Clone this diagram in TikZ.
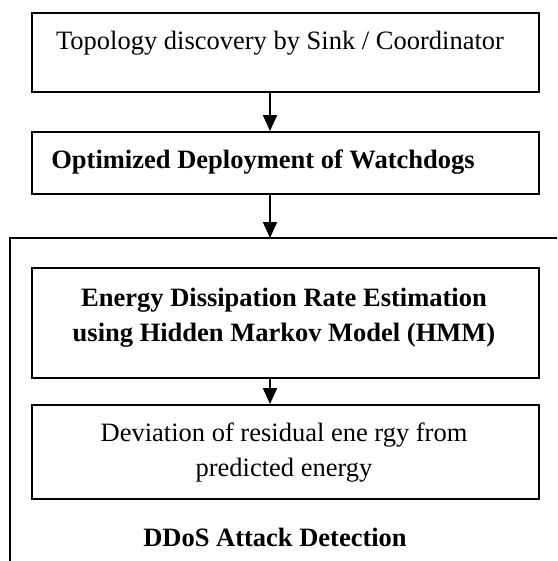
\documentclass[tikz,border=0pt]{standalone}
\usepackage{fontspec}
\setmainfont{Liberation Serif}
\usetikzlibrary{arrows.meta}
\begin{document}
\begin{tikzpicture}[x=1pt,y=-1pt,
  box/.style={draw, line width=1.8pt, inner sep=0pt, minimum width=507pt},
  txt/.style={font=\fontsize{26.5}{35}\selectfont, inner sep=0pt, anchor=base, align=center},
  btxt/.style={txt, font=\fontsize{26.5}{35}\selectfont\bfseries},
  flow/.style={line width=1.8pt, -{Triangle[width=14pt,length=16pt]}},
  outer/.style={line width=2pt}]
\useasboundingbox (0,0) rectangle (557,561);
\node[box, minimum height=79pt] (b1) at (285.5,52.5) {};
\node[box, minimum height=62pt] (b2) at (285.5,163) {};
\node[box, minimum height=110pt] (b3) at (285.5,323) {};
\node[box, minimum height=94pt] (b4) at (285.5,452) {};
\coordinate (ol) at (10,238);
\coordinate (or) at (557,238);
\coordinate (ob) at (10,561);
\coordinate (otop) at (270,238);
\draw[outer] (or) -- (ol) -- (ob);
\node[txt] (t1) at (280,49.3) {Topology discovery by Sink / Coordinator};
\node[btxt] (t2) at (263,168.5) {Optimized Deployment of Watchdogs};
\node[btxt] (t3) at (284,341.5) {Energy Dissipation Rate Estimation\\using Hidden Markov Model (HMM)};
\node[txt] (t4) at (284,476.7) {Deviation of residual ene rgy from\\predicted energy};
\node[btxt] (t5) at (275,546.5) {DDoS Attack Detection};
\draw[flow] ([xshift=-15.5pt]b1.south) -- ([xshift=-15.5pt]b2.north);
\draw[flow] ([xshift=-15.5pt]b2.south) -- (otop);
\draw[flow] ([xshift=-15.5pt]b3.south) -- ([xshift=-15.5pt]b4.north);
\end{tikzpicture}
\end{document}
